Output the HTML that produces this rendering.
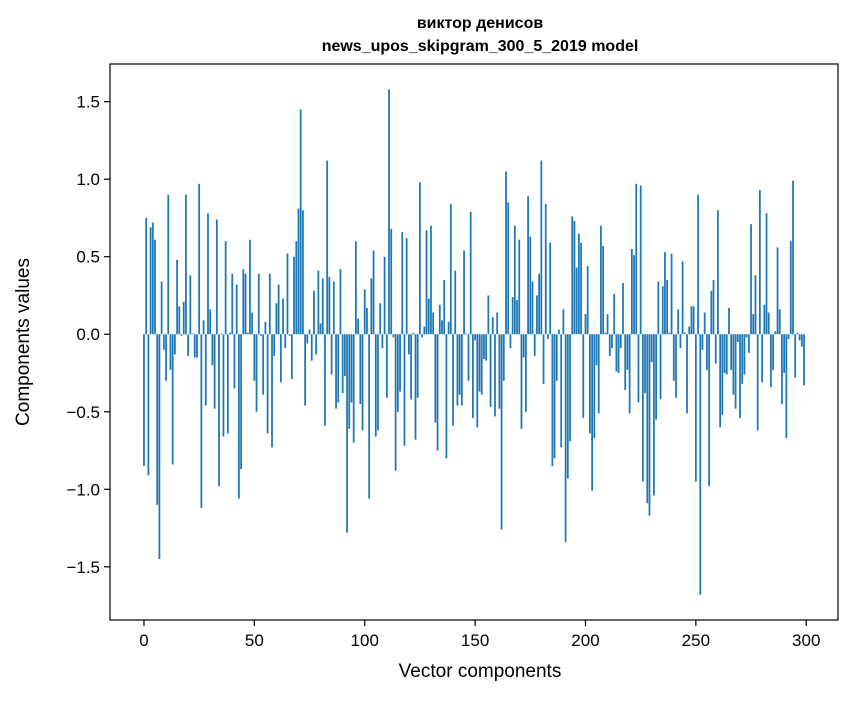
<!DOCTYPE html>
<html><head><meta charset="utf-8"><style>
html,body{margin:0;padding:0;background:#fff;}
svg text{font-family:"Liberation Sans","DejaVu Sans",sans-serif;fill:#000;}
</style></head><body>
<svg id="chart" width="867" height="696" viewBox="0 0 867 696" xmlns="http://www.w3.org/2000/svg">
<rect x="0" y="0" width="867" height="696" fill="#fff"/>
<g id="bars"></g>
<g id="axes"></g>
<text x="480" y="28" text-anchor="middle" font-size="16" font-weight="bold">виктор денисов</text>
<text x="480" y="51" text-anchor="middle" font-size="16" font-weight="bold">news_upos_skipgram_300_5_2019 model</text>
<text x="480" y="677" text-anchor="middle" font-size="19">Vector components</text>
<text x="0" y="0" transform="translate(29,342) rotate(-90)" text-anchor="middle" font-size="19">Components values</text>
</svg>
<script>
const values = [
-0.85,0.75,-0.91,0.69,0.72,0.61,-1.10,-1.45,0.34,-0.10,
-0.30,0.90,-0.23,-0.84,-0.13,0.48,0.18,-0.01,0.21,0.90,
-0.14,0.38,0.005,-0.15,-0.15,0.97,-1.12,0.09,-0.46,0.78,
0.16,-0.20,-0.48,0.74,-0.98,0.005,-0.66,0.60,-0.64,0.01,
0.39,-0.35,0.32,-1.06,-0.87,0.42,0.39,0.01,0.61,0.14,
-0.30,-0.50,0.39,-0.01,-0.39,0.08,-0.64,0.39,-0.73,-0.14,
0.20,0.32,-0.31,0.23,-0.09,0.52,-0.01,-0.29,0.50,0.60,
0.81,1.45,0.80,-0.46,-0.06,0.03,-0.17,0.28,-0.13,0.41,
0.07,0.36,-0.59,1.12,0.37,-0.26,0.34,-0.48,-0.44,0.42,
-0.38,-0.27,-1.28,-0.61,-0.44,-0.70,0.60,0.10,-0.45,-0.62,
0.29,0.17,-1.06,0.36,0.54,-0.66,-0.62,0.20,-0.09,0.50,
-0.41,1.58,0.68,-0.02,-0.88,-0.50,-0.37,0.66,-0.72,0.62,
-0.13,-0.42,0.01,-0.68,-0.41,0.98,-0.02,0.05,0.67,0.23,
0.70,0.14,-0.57,-0.75,0.19,0.09,0.35,-0.80,0.08,0.84,
-0.59,0.41,-0.46,-0.39,-0.46,0.54,0.005,-0.30,0.79,-0.54,
-0.04,-0.60,-0.37,-0.39,-0.16,-0.17,0.25,-0.47,0.11,-0.53,
0.14,-0.48,-1.26,-0.30,1.05,0.85,-0.09,0.24,0.70,0.22,
0.61,-0.61,-0.15,-0.50,0.89,0.63,0.34,-0.14,0.25,0.39,
1.12,-0.32,0.84,-0.03,0.59,-0.85,-0.80,-0.30,0.03,-0.73,
0.16,-1.34,-0.93,-0.69,0.76,0.73,0.43,0.65,0.59,-0.54,
0.13,0.44,-0.64,-1.01,-0.67,-0.20,-0.51,0.70,0.57,0.01,
0.13,-0.14,-0.09,0.26,-0.24,-0.25,-0.09,0.33,-0.36,-0.23,
-0.51,0.55,0.51,0.97,-0.44,0.96,-0.95,-0.38,-1.09,-1.17,
-0.18,-1.04,-0.55,0.34,-0.42,0.31,0.53,0.35,0.01,0.52,
-0.30,-0.41,0.16,-0.09,0.47,0.01,-0.51,0.05,0.18,0.18,
-0.95,0.90,-1.68,-0.10,0.14,-0.23,-0.98,0.28,0.35,-0.19,
0.80,-0.60,-0.52,-0.25,-0.26,0.17,-0.23,-0.39,-0.48,-0.05,
-0.54,-0.32,-0.26,-0.02,-0.12,0.71,0.13,0.38,-0.62,0.93,
-0.31,0.19,0.78,0.14,-0.34,-0.23,0.02,0.56,0.16,-0.45,
-0.25,-0.67,-0.03,0.60,0.99,-0.28,0.01,-0.04,-0.08,-0.33
];
const xTicks = [0,50,100,150,200,250,300];
const yTicks = [-1.5,-1.0,-0.5,0.0,0.5,1.0,1.5];
const yTickLabels = ["\u22121.5","\u22121.0","\u22120.5","0.0","0.5","1.0","1.5"];

const NS = "http://www.w3.org/2000/svg";
const L = 110, R = 838, T = 64, B = 620;
const n = values.length;
const xMin = -0.4 - 0.05 * (n - 0.2), xMax = (n - 1) + 0.4 + 0.05 * (n - 0.2);
const vMin = Math.min(0, ...values), vMax = Math.max(0, ...values);
const yPad = 0.05 * (vMax - vMin);
const yMin = vMin - yPad, yMax = vMax + yPad;
function xs(v){ return L + (v - xMin) / (xMax - xMin) * (R - L); }
function ys(v){ return B - (v - yMin) / (yMax - yMin) * (B - T); }

const barsG = document.getElementById('bars');
const bw = xs(0.8) - xs(0);
values.forEach((v, i) => {
  const r = document.createElementNS(NS, 'rect');
  const y0 = ys(0), y1 = ys(v);
  r.setAttribute('x', xs(i) - bw / 2);
  r.setAttribute('y', Math.min(y0, y1));
  r.setAttribute('width', bw);
  r.setAttribute('height', Math.max(Math.abs(y1 - y0), 0.3));
  r.setAttribute('fill', '#1f77b4');
  
  
  barsG.appendChild(r);
});

const ax = document.getElementById('axes');
const frame = document.createElementNS(NS, 'rect');
frame.setAttribute('x', L); frame.setAttribute('y', T);
frame.setAttribute('width', R - L); frame.setAttribute('height', B - T);
frame.setAttribute('fill', 'none'); frame.setAttribute('stroke', '#000'); frame.setAttribute('stroke-width', '1.2');


ax.appendChild(frame);

xTicks.forEach(t => {
  const x = xs(t);
  const ln = document.createElementNS(NS, 'line');
  ln.setAttribute('x1', x); ln.setAttribute('x2', x); ln.setAttribute('y1', B); ln.setAttribute('y2', B + 6);
  ln.setAttribute('stroke', '#000'); ln.setAttribute('stroke-width', '1.2');
  
  
  ax.appendChild(ln);
  const tx = document.createElementNS(NS, 'text');
  tx.setAttribute('x', x); tx.setAttribute('y', B + 26);
  tx.setAttribute('text-anchor', 'middle'); tx.setAttribute('font-size', '17');
  tx.textContent = String(t);
  
  
  ax.appendChild(tx);
});
yTicks.forEach((t, i) => {
  const y = ys(t);
  const ln = document.createElementNS(NS, 'line');
  ln.setAttribute('x1', L - 6); ln.setAttribute('x2', L); ln.setAttribute('y1', y); ln.setAttribute('y2', y);
  ln.setAttribute('stroke', '#000'); ln.setAttribute('stroke-width', '1.2');
  
  
  ax.appendChild(ln);
  const tx = document.createElementNS(NS, 'text');
  tx.setAttribute('x', L - 10); tx.setAttribute('y', y + 6);
  tx.setAttribute('text-anchor', 'end'); tx.setAttribute('font-size', '17');
  tx.textContent = yTickLabels[i];
  
  
  ax.appendChild(tx);
});
</script>
</body></html>
